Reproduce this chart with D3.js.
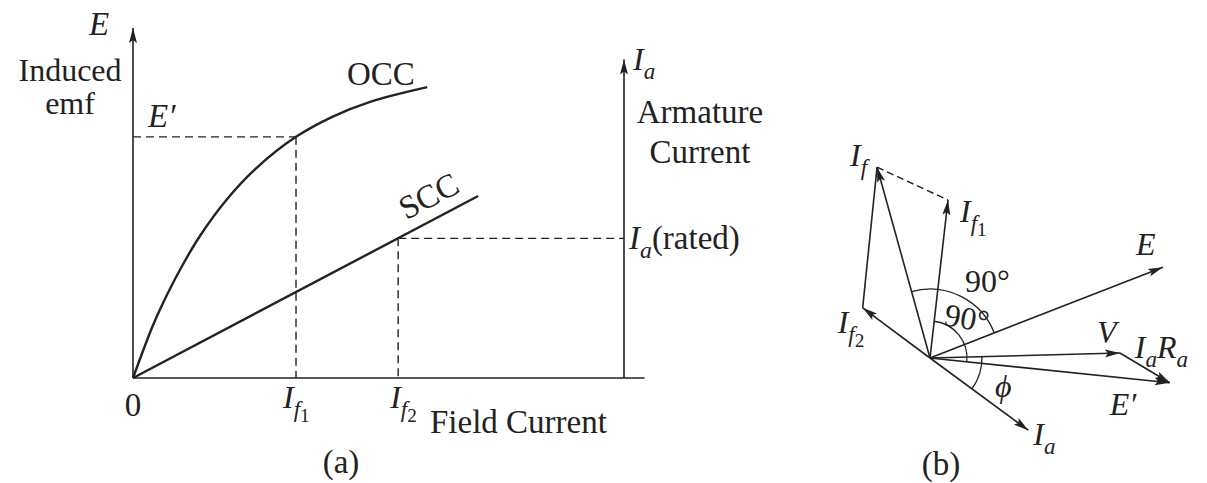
<!DOCTYPE html>
<html>
<head>
<meta charset="utf-8">
<script src="https://cdn.jsdelivr.net/npm/d3@7"></script>
<style>
  body { margin: 0; background: #fff; }
  text { font-family: "Liberation Serif", "Times New Roman", serif; fill: #222; }
</style>
</head>
<body>
<div id="chart"></div>
<script>
// ---- panel (a): OCC / SCC ----
var occField = [0, 0.39, 0.59, 0.96, 1.36, 1.91, 2.53, 3.32, 4.07, 4.83, 5.99]
var occEmf = [0, 1.45, 2.08, 3.1, 4.05, 5.1, 6.02, 6.89, 7.47, 7.89, 8.31]
var sccField = [0, 7.03]
var sccCurrent = [0, 5.2]
var If1 = 3.32, If2 = 5.40, Eprime = 6.89, IaRated = 3.99

// ---- panel (b): phasors (angle in degrees, length relative to E) ----
var phasorNames = ["E", "V", "E'", "Ia", "If1", "If2", "If"]
var phasorAngles = [21.3, 1.5, -5.9, -36.3, 83.5, 143.3, 105.5]
var phasorLengths = [1.0, 0.76, 0.964, 0.488, 0.636, 0.336, 0.792]
var arcRadii = { outer: 0.276, inner: 0.148, phi: 0.208 }

var W = 1207, H = 483
var ink = "#222"

var svg = d3.select("#chart").append("svg")
    .attr("width", W)
    .attr("height", H)

var defs = svg.append("defs")
defs.append("marker")
    .attr("id", "arrow")
    .attr("viewBox", "0 -5 16 10")
    .attr("refX", 15)
    .attr("refY", 0)
    .attr("markerWidth", 16)
    .attr("markerHeight", 10)
    .attr("markerUnits", "userSpaceOnUse")
    .attr("orient", "auto")
    .append("path")
    .attr("d", "M0,-4L15,0L0,4L3,0Z")
    .attr("fill", ink)

// text with sub / sub-sub parts
function richText(g, x, y, parts, size, anchor) {
    var t = g.append("text")
        .attr("x", x).attr("y", y)
        .attr("font-size", size)
        .attr("text-anchor", anchor || "start")
    var cur = 0
    parts.forEach(function (p) {
        var lvl = p.sub || 0
        var off = [0, 0.28, 0.45][lvl] * size
        var fs = [1, 0.72, 0.6][lvl] * size
        t.append("tspan")
            .attr("dy", off - cur)
            .attr("font-size", fs)
            .attr("font-style", p.i ? "italic" : "normal")
            .text(p.t)
        cur = off
    })
    return t
}

//////////
// (a) //
//////////
var ga = svg.append("g")
var x = d3.scaleLinear().domain([0, 10]).range([133, 624])
var y = d3.scaleLinear().domain([0, 10]).range([378, 28])

// axes
ga.append("line")
    .attr("x1", x(0)).attr("y1", y(0)).attr("x2", x(0)).attr("y2", y(10))
    .attr("stroke", ink).attr("stroke-width", 1.6).attr("marker-end", "url(#arrow)")
ga.append("line")
    .attr("x1", x(0)).attr("y1", y(0)).attr("x2", x(10.42)).attr("y2", y(0))
    .attr("stroke", ink).attr("stroke-width", 1.6)
ga.append("line")
    .attr("x1", x(10)).attr("y1", y(0)).attr("x2", x(10)).attr("y2", y(9.1))
    .attr("stroke", ink).attr("stroke-width", 1.6).attr("marker-end", "url(#arrow)")

// dashed guides
var dash = "8,5"
var guides = [
    [[0, Eprime], [If1, Eprime]],
    [[If1, Eprime], [If1, 0]],
    [[If2, IaRated], [10, IaRated]],
    [[If2, IaRated], [If2, 0]]
]
ga.selectAll(".guide")
    .data(guides)
    .enter()
    .append("line")
    .attr("class", "guide")
    .attr("x1", function (d) { return x(d[0][0]) })
    .attr("y1", function (d) { return y(d[0][1]) })
    .attr("x2", function (d) { return x(d[1][0]) })
    .attr("y2", function (d) { return y(d[1][1]) })
    .attr("stroke", ink).attr("stroke-width", 1.4).attr("stroke-dasharray", dash)

// curves
var occ = occField.map(function (f, i) { return [f, occEmf[i]] })
var scc = sccField.map(function (f, i) { return [f, sccCurrent[i]] })
var line = d3.line()
    .x(function (d) { return x(d[0]) })
    .y(function (d) { return y(d[1]) })
    .curve(d3.curveCatmullRom.alpha(0.5))

ga.append("path").datum(occ).attr("d", line)
    .attr("fill", "none").attr("stroke", ink).attr("stroke-width", 2.4)
ga.append("path").datum(scc).attr("d", line)
    .attr("fill", "none").attr("stroke", ink).attr("stroke-width", 2.4)

// labels (a)
var fs = 33
richText(ga, 99, 35, [{ t: "E", i: 1 }], fs, "middle")
richText(ga, 70, 81, [{ t: "Induced" }], 32, "middle")
richText(ga, 70, 114, [{ t: "emf" }], 32, "middle")
richText(ga, 148, 127, [{ t: "E\u2032", i: 1 }], fs)
richText(ga, 347, 85, [{ t: "OCC" }], fs)

var sccAngle = Math.atan2(y(sccCurrent[1]) - y(0), x(sccField[1]) - x(0)) * 180 / Math.PI
var sccAt = 5.68
ga.append("g")
    .attr("transform", "translate(" + x(sccAt) + "," + y(sccAt * sccCurrent[1] / sccField[1]) + ") rotate(" + sccAngle + ")")
    .append("text")
    .attr("x", 0).attr("y", -12)
    .attr("font-size", fs)
    .text("SCC")

richText(ga, 633, 70, [{ t: "I", i: 1 }, { t: "a", i: 1, sub: 1 }], 32)
richText(ga, 700, 123, [{ t: "Armature" }], fs, "middle")
richText(ga, 700, 163, [{ t: "Current" }], fs, "middle")
richText(ga, 629, 249, [{ t: "I", i: 1 }, { t: "a", i: 1, sub: 1 }, { t: "(rated)", sub: 0 }], 33)

richText(ga, x(0), 416, [{ t: "0" }], fs, "middle")
richText(ga, x(If1) - 13, 408, [{ t: "I", i: 1 }, { t: "f", i: 1, sub: 1 }, { t: "1", sub: 2 }], 32)
richText(ga, x(If2) - 8, 408, [{ t: "I", i: 1 }, { t: "f", i: 1, sub: 1 }, { t: "2", sub: 2 }], 32)
richText(ga, 430, 433, [{ t: "Field Current" }], fs)
richText(ga, 341, 473, [{ t: "(a)" }], fs, "middle")

//////////
// (b) //
//////////
var gb = svg.append("g").attr("transform", "translate(930,358)")
var r = d3.scaleLinear().domain([0, 1]).range([0, 250])

var tips = {}
phasorNames.forEach(function (n, i) {
    var a = phasorAngles[i] * Math.PI / 180
    tips[n] = [r(phasorLengths[i]) * Math.cos(a), -r(phasorLengths[i]) * Math.sin(a)]
})

gb.selectAll(".phasor")
    .data(phasorNames)
    .enter()
    .append("line")
    .attr("class", "phasor")
    .attr("x1", 0).attr("y1", 0)
    .attr("x2", function (d) { return tips[d][0] })
    .attr("y2", function (d) { return tips[d][1] })
    .attr("stroke", ink).attr("stroke-width", 1.6)
    .attr("marker-end", "url(#arrow)")

// IaRa from V tip to E' tip
gb.append("line")
    .attr("x1", tips["V"][0]).attr("y1", tips["V"][1])
    .attr("x2", tips["E'"][0]).attr("y2", tips["E'"][1])
    .attr("stroke", ink).attr("stroke-width", 1.6).attr("marker-end", "url(#arrow)")
// If2 tip to If tip
gb.append("line")
    .attr("x1", tips["If2"][0]).attr("y1", tips["If2"][1])
    .attr("x2", tips["If"][0]).attr("y2", tips["If"][1])
    .attr("stroke", ink).attr("stroke-width", 1.6)
// dashed If to If1
gb.append("line")
    .attr("x1", tips["If"][0]).attr("y1", tips["If"][1])
    .attr("x2", tips["If1"][0]).attr("y2", tips["If1"][1])
    .attr("stroke", ink).attr("stroke-width", 1.4).attr("stroke-dasharray", "7,4")

// angle arcs
function angleArc(rad, fromName, toName) {
    var a0 = -phasorAngles[phasorNames.indexOf(fromName)] * Math.PI / 180
    var a1 = -phasorAngles[phasorNames.indexOf(toName)] * Math.PI / 180
    var p = d3.path()
    p.moveTo(r(rad) * Math.cos(a0), r(rad) * Math.sin(a0))
    p.arc(0, 0, r(rad), a0, a1, a1 < a0)
    gb.append("path").attr("d", p.toString())
        .attr("fill", "none").attr("stroke", ink).attr("stroke-width", 1.3)
}
angleArc(arcRadii.outer, "E", "If")
angleArc(arcRadii.inner, "E'", "If1")
angleArc(arcRadii.phi, "V", "Ia")

// labels (b)
function tipLabel(name, dx, dy, parts) {
    richText(gb, tips[name][0] + dx, tips[name][1] + dy, parts, 32)
}
tipLabel("E", -27, -12, [{ t: "E", i: 1 }])
tipLabel("V", -23, -10, [{ t: "V", i: 1 }])
tipLabel("E'", -60, 32, [{ t: "E\u2032", i: 1 }])
tipLabel("Ia", 5, 15, [{ t: "I", i: 1 }, { t: "a", i: 1, sub: 1 }])
tipLabel("If1", 12, 22, [{ t: "I", i: 1 }, { t: "f", i: 1, sub: 1 }, { t: "1", sub: 2 }])
tipLabel("If2", -25, 25, [{ t: "I", i: 1 }, { t: "f", i: 1, sub: 1 }, { t: "2", sub: 2 }])
tipLabel("If", -27, -1, [{ t: "I", i: 1 }, { t: "f", i: 1, sub: 1 }])
tipLabel("E'", -35, -25, [{ t: "I", i: 1 }, { t: "a", i: 1, sub: 1 }, { t: "R", i: 1, sub: 0 }, { t: "a", i: 1, sub: 1 }])

richText(gb, 35, -66, [{ t: "90\u00b0" }], 32)
richText(gb, 0, 0, [{ t: "90\u00b0" }], 32).attr("transform", "translate(13,-33) rotate(10)")
richText(gb, 65, 39, [{ t: "\u03d5", i: 1 }], 32)
richText(gb, 11, 117, [{ t: "(b)" }], fs, "middle")
</script>
</body>
</html>
